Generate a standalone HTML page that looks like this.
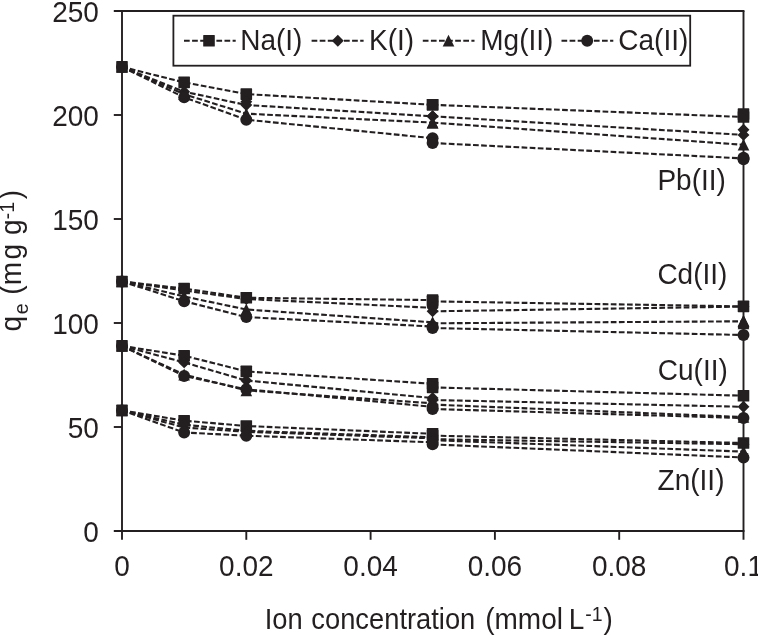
<!DOCTYPE html>
<html lang="en">
<head>
<meta charset="utf-8">
<title>Ion concentration chart</title>
<style>
html,body{margin:0;padding:0;background:#fff;}
body{width:758px;height:636px;overflow:hidden;}
svg{display:block;}
text{font-family:"Liberation Sans",Arial,Helvetica,sans-serif;font-size:28px;fill:#231f20;}
.ax{stroke:#231f20;stroke-width:1.9;fill:none;stroke-linecap:butt;}
.ser polyline{stroke:#231f20;stroke-width:2.1;fill:none;stroke-dasharray:5.7 2.4;stroke-linejoin:round;}
.mk{fill:#231f20;stroke:none;}
</style>
</head>
<body>
<svg width="758" height="636" viewBox="0 0 758 636" style="will-change:transform">
<rect x="0" y="0" width="758" height="636" fill="#fff"/>
<g class="ax">
<path d="M113.8 11.0H744.45"/>
<path d="M122.0 11.0V539.8"/>
<path d="M113.8 531.0H744.45"/>
<path d="M743.5 11.0V539.8"/>
<path d="M113.8 427.0H122.0"/>
<path d="M113.8 323.0H122.0"/>
<path d="M113.8 219.0H122.0"/>
<path d="M113.8 115.0H122.0"/>
<path d="M246.30 531.0V539.8"/>
<path d="M370.60 531.0V539.8"/>
<path d="M494.90 531.0V539.8"/>
<path d="M619.20 531.0V539.8"/>
</g>
<g text-anchor="end">
<text transform="translate(98.9 541.5) scale(1.0 1.085)" text-anchor="end">0</text>
<text transform="translate(98.9 437.5) scale(1.0 1.085)" text-anchor="end">50</text>
<text transform="translate(98.9 333.5) scale(1.0 1.085)" text-anchor="end">100</text>
<text transform="translate(98.9 229.5) scale(1.0 1.085)" text-anchor="end">150</text>
<text transform="translate(98.9 125.5) scale(1.0 1.085)" text-anchor="end">200</text>
<text transform="translate(98.9 21.5) scale(1.0 1.085)" text-anchor="end">250</text>
</g>
<g text-anchor="middle">
<text transform="translate(122.0 575.9) scale(1.0 1.085)" text-anchor="middle">0</text>
<text transform="translate(246.3 575.9) scale(1.0 1.085)" text-anchor="middle">0.02</text>
<text transform="translate(370.6 575.9) scale(1.0 1.085)" text-anchor="middle">0.04</text>
<text transform="translate(494.9 575.9) scale(1.0 1.085)" text-anchor="middle">0.06</text>
<text transform="translate(619.2 575.9) scale(1.0 1.085)" text-anchor="middle">0.08</text>
<text transform="translate(743.5 575.9) scale(1.0 1.085)" text-anchor="middle">0.1</text>
</g>
<text transform="translate(264.7 629.0) scale(0.976 1.055)">Ion<tspan dx="1.1"> concentration</tspan></text>
<text transform="translate(485.2 629.0) scale(1.0 1.055)">(mmol<tspan dx="-1.9"> L</tspan><tspan font-size="19.5" dy="-8" dx="0.9">-1</tspan><tspan dy="8" dx="0.8">)</tspan></text>
<text transform="translate(21.2 331.4) rotate(-90) scale(1 1.04)">q<tspan font-size="19.5" dy="6.7" dx="1.7">e</tspan><tspan dy="-6.7" dx="0 0.7 0.3 2.3 0 1.3"> (mg g</tspan><tspan font-size="19.5" dy="-6.9" dx="0.1">-1</tspan><tspan dy="6.9" dx="2.7">)</tspan></text>
<g class="ser">
<polyline points="122.00,66.90 184.15,82.40 246.30,94.10 432.60,104.80"/>
<polyline points="432.60,104.80 743.50,117.00"/>
<polyline points="122.00,66.90 184.15,91.70 246.30,105.00 432.60,116.30"/>
<polyline points="432.60,116.30 743.50,134.90"/>
<polyline points="122.00,66.90 184.15,94.20 246.30,113.70 432.60,122.60"/>
<polyline points="432.60,122.60 743.50,144.80"/>
<polyline points="122.00,66.90 184.15,97.40 246.30,119.70 432.60,138.20"/>
<polyline points="432.60,143.00 743.50,158.40"/>
<polyline points="122.00,281.50 184.15,288.50 246.30,297.80 432.60,300.10"/>
<polyline points="432.60,301.40 743.50,306.40"/>
<polyline points="122.00,281.50 184.15,290.50 246.30,299.00 432.60,307.80"/>
<polyline points="432.60,311.30 743.50,306.60"/>
<polyline points="122.00,281.50 184.15,296.50 246.30,309.50 432.60,322.30"/>
<polyline points="432.60,323.30 743.50,321.30"/>
<polyline points="122.00,281.50 184.15,301.20 246.30,317.10 432.60,326.50"/>
<polyline points="432.60,328.00 743.50,335.00"/>
<polyline points="122.00,345.90 184.15,355.70 246.30,371.40 432.60,383.80"/>
<polyline points="432.60,387.40 743.50,395.70"/>
<polyline points="122.00,345.90 184.15,362.40 246.30,380.50 432.60,398.00"/>
<polyline points="432.60,400.00 743.50,406.80"/>
<polyline points="122.00,345.90 184.15,374.60 246.30,390.40 432.60,403.30"/>
<polyline points="432.60,404.60 743.50,417.00"/>
<polyline points="122.00,345.90 184.15,376.00 246.30,389.30 432.60,406.80"/>
<polyline points="432.60,409.00 743.50,418.00"/>
<polyline points="122.00,410.40 184.15,420.70 246.30,426.00 432.60,433.80"/>
<polyline points="432.60,435.60 743.50,443.00"/>
<polyline points="122.00,410.40 184.15,424.70 246.30,430.80 432.60,437.30"/>
<polyline points="432.60,439.20 743.50,444.20"/>
<polyline points="122.00,410.40 184.15,427.50 246.30,431.80 432.60,438.30"/>
<polyline points="432.60,440.20 743.50,451.60"/>
<polyline points="122.00,410.40 184.15,432.50 246.30,435.70 432.60,442.30"/>
<polyline points="432.60,444.40 743.50,457.50"/>
</g>
<g class="mk">
<rect x="116.20" y="61.10" width="11.6" height="11.6" rx="0.6"/>
<rect x="178.35" y="76.60" width="11.6" height="11.6" rx="0.6"/>
<rect x="240.50" y="88.30" width="11.6" height="11.6" rx="0.6"/>
<rect x="426.80" y="99.00" width="11.6" height="11.6" rx="0.6"/>
<rect x="426.80" y="99.00" width="11.6" height="11.6" rx="0.6"/>
<rect x="737.70" y="111.20" width="11.6" height="11.6" rx="0.6"/>
<rect x="737.70" y="108.30" width="11.6" height="11.6" rx="0.6"/>
<path d="M122.00 60.95L127.95 66.90L122.00 72.85L116.05 66.90Z"/>
<path d="M184.15 85.75L190.10 91.70L184.15 97.65L178.20 91.70Z"/>
<path d="M246.30 99.05L252.25 105.00L246.30 110.95L240.35 105.00Z"/>
<path d="M432.60 110.35L438.55 116.30L432.60 122.25L426.65 116.30Z"/>
<path d="M432.60 110.35L438.55 116.30L432.60 122.25L426.65 116.30Z"/>
<path d="M743.50 128.95L749.45 134.90L743.50 140.85L737.55 134.90Z"/>
<path d="M743.50 123.85L749.45 129.80L743.50 135.75L737.55 129.80Z"/>
<path d="M246.30 95.85L252.25 101.80L246.30 107.75L240.35 101.80Z"/>
<path d="M122.00 60.90L127.80 72.70L116.20 72.70Z"/>
<path d="M184.15 88.20L189.95 100.00L178.35 100.00Z"/>
<path d="M246.30 107.70L252.10 119.50L240.50 119.50Z"/>
<path d="M432.60 116.60L438.40 128.40L426.80 128.40Z"/>
<path d="M432.60 116.60L438.40 128.40L426.80 128.40Z"/>
<path d="M743.50 138.80L749.30 150.60L737.70 150.60Z"/>
<circle cx="122.00" cy="66.90" r="5.95"/>
<circle cx="184.15" cy="97.40" r="5.95"/>
<circle cx="246.30" cy="119.70" r="5.95"/>
<circle cx="432.60" cy="138.20" r="5.95"/>
<circle cx="432.60" cy="143.00" r="5.95"/>
<circle cx="743.50" cy="158.40" r="5.95"/>
<circle cx="743.50" cy="157.60" r="5.95"/>
<circle cx="743.50" cy="159.20" r="5.95"/>
<rect x="116.20" y="275.70" width="11.6" height="11.6" rx="0.6"/>
<rect x="178.35" y="282.70" width="11.6" height="11.6" rx="0.6"/>
<rect x="240.50" y="292.00" width="11.6" height="11.6" rx="0.6"/>
<rect x="426.80" y="294.30" width="11.6" height="11.6" rx="0.6"/>
<rect x="426.80" y="295.60" width="11.6" height="11.6" rx="0.6"/>
<rect x="737.70" y="300.60" width="11.6" height="11.6" rx="0.6"/>
<path d="M122.00 275.55L127.95 281.50L122.00 287.45L116.05 281.50Z"/>
<path d="M184.15 284.55L190.10 290.50L184.15 296.45L178.20 290.50Z"/>
<path d="M246.30 293.05L252.25 299.00L246.30 304.95L240.35 299.00Z"/>
<path d="M432.60 301.85L438.55 307.80L432.60 313.75L426.65 307.80Z"/>
<path d="M432.60 305.35L438.55 311.30L432.60 317.25L426.65 311.30Z"/>
<path d="M743.50 300.65L749.45 306.60L743.50 312.55L737.55 306.60Z"/>
<path d="M122.00 275.50L127.80 287.30L116.20 287.30Z"/>
<path d="M184.15 290.50L189.95 302.30L178.35 302.30Z"/>
<path d="M246.30 303.50L252.10 315.30L240.50 315.30Z"/>
<path d="M432.60 316.30L438.40 328.10L426.80 328.10Z"/>
<path d="M432.60 317.30L438.40 329.10L426.80 329.10Z"/>
<path d="M743.50 315.30L749.30 327.10L737.70 327.10Z"/>
<path d="M743.50 314.70L749.30 326.50L737.70 326.50Z"/>
<path d="M743.50 316.20L749.30 328.00L737.70 328.00Z"/>
<path d="M743.50 317.40L749.30 329.20L737.70 329.20Z"/>
<circle cx="122.00" cy="281.50" r="5.95"/>
<circle cx="184.15" cy="301.20" r="5.95"/>
<circle cx="246.30" cy="317.10" r="5.95"/>
<circle cx="432.60" cy="326.50" r="5.95"/>
<circle cx="432.60" cy="328.00" r="5.95"/>
<circle cx="743.50" cy="335.00" r="5.95"/>
<rect x="116.20" y="340.10" width="11.6" height="11.6" rx="0.6"/>
<rect x="178.35" y="349.90" width="11.6" height="11.6" rx="0.6"/>
<rect x="240.50" y="365.60" width="11.6" height="11.6" rx="0.6"/>
<rect x="426.80" y="378.00" width="11.6" height="11.6" rx="0.6"/>
<rect x="426.80" y="381.60" width="11.6" height="11.6" rx="0.6"/>
<rect x="737.70" y="389.90" width="11.6" height="11.6" rx="0.6"/>
<path d="M122.00 339.95L127.95 345.90L122.00 351.85L116.05 345.90Z"/>
<path d="M184.15 356.45L190.10 362.40L184.15 368.35L178.20 362.40Z"/>
<path d="M246.30 374.55L252.25 380.50L246.30 386.45L240.35 380.50Z"/>
<path d="M432.60 392.05L438.55 398.00L432.60 403.95L426.65 398.00Z"/>
<path d="M432.60 394.05L438.55 400.00L432.60 405.95L426.65 400.00Z"/>
<path d="M743.50 400.85L749.45 406.80L743.50 412.75L737.55 406.80Z"/>
<path d="M122.00 339.90L127.80 351.70L116.20 351.70Z"/>
<path d="M184.15 368.60L189.95 380.40L178.35 380.40Z"/>
<path d="M246.30 384.40L252.10 396.20L240.50 396.20Z"/>
<path d="M432.60 397.30L438.40 409.10L426.80 409.10Z"/>
<path d="M432.60 398.60L438.40 410.40L426.80 410.40Z"/>
<path d="M743.50 411.00L749.30 422.80L737.70 422.80Z"/>
<circle cx="122.00" cy="345.90" r="5.95"/>
<circle cx="184.15" cy="376.00" r="5.95"/>
<circle cx="246.30" cy="389.30" r="5.95"/>
<circle cx="432.60" cy="406.80" r="5.95"/>
<circle cx="432.60" cy="409.00" r="5.95"/>
<circle cx="743.50" cy="418.00" r="5.95"/>
<rect x="116.20" y="404.60" width="11.6" height="11.6" rx="0.6"/>
<rect x="178.35" y="414.90" width="11.6" height="11.6" rx="0.6"/>
<rect x="240.50" y="420.20" width="11.6" height="11.6" rx="0.6"/>
<rect x="426.80" y="428.00" width="11.6" height="11.6" rx="0.6"/>
<rect x="426.80" y="429.80" width="11.6" height="11.6" rx="0.6"/>
<rect x="737.70" y="437.20" width="11.6" height="11.6" rx="0.6"/>
<path d="M122.00 404.45L127.95 410.40L122.00 416.35L116.05 410.40Z"/>
<path d="M184.15 418.75L190.10 424.70L184.15 430.65L178.20 424.70Z"/>
<path d="M246.30 424.85L252.25 430.80L246.30 436.75L240.35 430.80Z"/>
<path d="M432.60 431.35L438.55 437.30L432.60 443.25L426.65 437.30Z"/>
<path d="M432.60 433.25L438.55 439.20L432.60 445.15L426.65 439.20Z"/>
<path d="M743.50 438.25L749.45 444.20L743.50 450.15L737.55 444.20Z"/>
<path d="M122.00 404.40L127.80 416.20L116.20 416.20Z"/>
<path d="M184.15 421.50L189.95 433.30L178.35 433.30Z"/>
<path d="M246.30 425.80L252.10 437.60L240.50 437.60Z"/>
<path d="M432.60 432.30L438.40 444.10L426.80 444.10Z"/>
<path d="M432.60 434.20L438.40 446.00L426.80 446.00Z"/>
<path d="M743.50 445.60L749.30 457.40L737.70 457.40Z"/>
<circle cx="122.00" cy="410.40" r="5.95"/>
<circle cx="184.15" cy="432.50" r="5.95"/>
<circle cx="246.30" cy="435.70" r="5.95"/>
<circle cx="432.60" cy="442.30" r="5.95"/>
<circle cx="432.60" cy="444.40" r="5.95"/>
<circle cx="743.50" cy="457.50" r="5.95"/>
</g>
<text transform="translate(657.4 189.5) scale(1.0 1.085)">Pb(II)</text>
<text transform="translate(657.4 283.7) scale(1.0 1.085)">Cd(II)</text>
<text transform="translate(657.8 380.3) scale(1.0 1.085)">Cu(II)</text>
<text transform="translate(657.6 490.4) scale(1.0 1.085)">Zn(II)</text>
<rect x="173.4" y="15.7" width="516.8" height="50.0" fill="#fff" stroke="#231f20" stroke-width="1.8"/>
<g class="ser">
<polyline points="184.0,40.8 235.7,40.8"/>
<polyline points="311.6,40.8 363.6,40.8"/>
<polyline points="422.8,40.8 474.5,40.8"/>
<polyline points="561.5,40.8 613.3,40.8"/>
</g><g class="mk">
<rect x="203.20" y="35.00" width="11.6" height="11.6" rx="0.6"/>
<path d="M337.80 34.85L343.75 40.80L337.80 46.75L331.85 40.80Z"/>
<path d="M448.50 34.80L454.30 46.60L442.70 46.60Z"/>
<circle cx="587.20" cy="40.80" r="5.95"/>
</g>
<text transform="translate(240.2 49.9) scale(1.0 1.085)">Na(I)</text>
<text transform="translate(369.1 49.9) scale(1.0 1.085)">K(I)</text>
<text transform="translate(480.3 49.9) scale(1.0 1.085)">Mg(II)</text>
<text transform="translate(618.3 49.9) scale(1.0 1.085)">Ca(II)</text>
</svg>
</body>
</html>
